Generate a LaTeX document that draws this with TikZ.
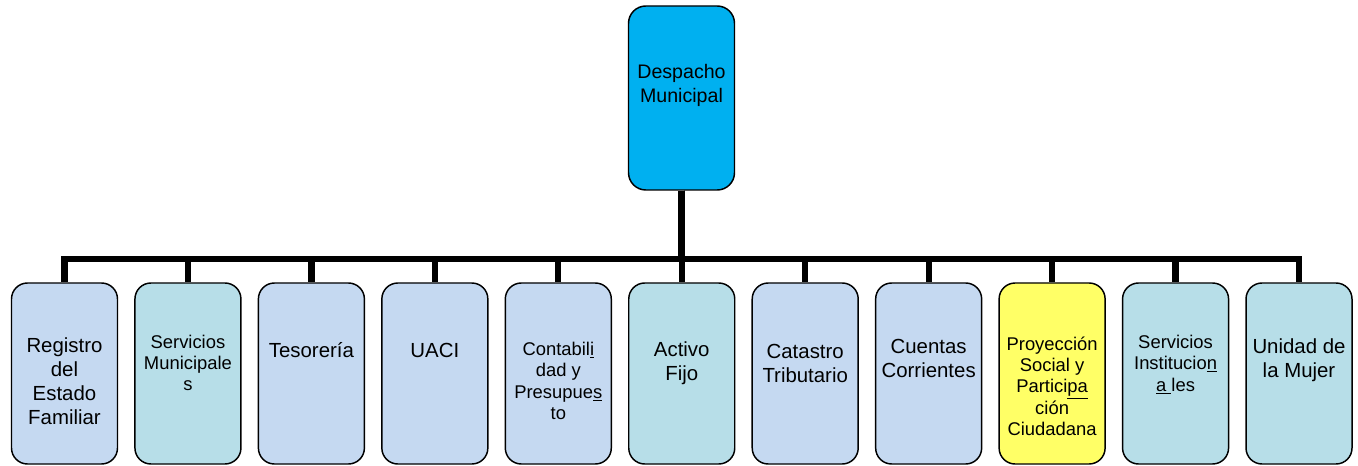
\documentclass[tikz,border=0pt]{standalone}
\usepackage{fontspec}
\setmainfont{Liberation Sans}
\usepackage{tikz}

\tikzset{
  unit/.style={draw, line width=1.1pt, rounded corners=12pt, minimum width=79.5pt, minimum height=135.75pt, inner sep=0pt},
  bluebox/.style={unit, fill={rgb, 255:red, 197; green, 217; blue, 241 }},
  tealbox/.style={unit, fill={rgb, 255:red, 183; green, 222; blue, 232 }},
  yellowbox/.style={unit, fill={rgb, 255:red, 255; green, 255; blue, 102 }},
  headbox/.style={draw, line width=1.1pt, rounded corners=13pt, minimum width=79.5pt, minimum height=138pt, inner sep=0pt, fill={rgb, 255:red, 0; green, 176; blue, 240 }},
  bar/.style={line width=4.7pt, color={rgb, 255:red, 0; green, 0; blue, 0 }},
  lbig/.style={inner sep=0.75pt, align=center, font=\fontsize{15.3}{18}\selectfont},
  lsmall/.style={inner sep=0.75pt, align=center, font=\fontsize{13.8}{16}\selectfont},
  lhead/.style={inner sep=0.75pt, align=center, font=\fontsize{14.7}{18}\selectfont}
}

\begin{document}
\begin{tikzpicture}[x=0.75pt,y=0.75pt,yscale=-1,xscale=1]
\useasboundingbox (0,0) rectangle (1358,466);

%Shape: Rounded Rectangle [id:despacho]
\node [headbox] (despacho) at (681.5,98) {};
%Shape: Rounded Rectangle [id:registro]
\node [bluebox] (registro) at (64.5,373.5) {};
%Shape: Rounded Rectangle [id:servmun]
\node [tealbox] (servmun) at (187.95,373.5) {};
%Shape: Rounded Rectangle [id:tesoreria]
\node [bluebox] (tesoreria) at (311.4,373.5) {};
%Shape: Rounded Rectangle [id:uaci]
\node [bluebox] (uaci) at (434.85,373.5) {};
%Shape: Rounded Rectangle [id:contab]
\node [bluebox] (contab) at (558.3,373.5) {};
%Shape: Rounded Rectangle [id:activo]
\node [tealbox] (activo) at (681.75,373.5) {};
%Shape: Rounded Rectangle [id:catastro]
\node [bluebox] (catastro) at (805.2,373.5) {};
%Shape: Rounded Rectangle [id:cuentas]
\node [bluebox] (cuentas) at (928.65,373.5) {};
%Shape: Rounded Rectangle [id:proyeccion]
\node [yellowbox] (proyeccion) at (1052.1,373.5) {};
%Shape: Rounded Rectangle [id:servinst]
\node [tealbox] (servinst) at (1175.55,373.5) {};
%Shape: Rounded Rectangle [id:mujer]
\node [tealbox] (mujer) at (1299,373.5) {};

%Straight Lines [id:trunk]
\draw [bar] (despacho.south) -- ++(0,68) -| (registro.north) ;
\draw [bar] (despacho.south) -- ++(0,68) -| (servmun.north) ;
\draw [bar] (despacho.south) -- ++(0,68) -| (tesoreria.north) ;
\draw [bar] (despacho.south) -- ++(0,68) -| (uaci.north) ;
\draw [bar] (despacho.south) -- ++(0,68) -| (contab.north) ;
\draw [bar] (despacho.south) -- ++(0,68) -| (activo.north) ;
\draw [bar] (despacho.south) -- ++(0,68) -| (catastro.north) ;
\draw [bar] (despacho.south) -- ++(0,68) -| (cuentas.north) ;
\draw [bar] (despacho.south) -- ++(0,68) -| (proyeccion.north) ;
\draw [bar] (despacho.south) -- ++(0,68) -| (servinst.north) ;
\draw [bar] (despacho.south) -- ++(0,68) -| (mujer.north) ;

% Text Node
\node [lhead] (despachoT) at (681.5,85) {Despacho\\Municipal};
% Text Node
\node [lbig] (registroT) at (64.5,381) {Registro\\del\\Estado\\Familiar};
% Text Node
\node [lsmall] (servmunT) at (187.95,363) {Servicios\\Municipale\\s};
% Text Node
\node [lbig] (tesoreriaT) at (311.4,350) {Tesorería};
% Text Node
\node [lbig] (uaciT) at (434.85,350) {UACI};
% Text Node
\node [lsmall] (contabT) at (558.3,381) {Contabil\underline{i}\\dad y\\Presupue\underline{s}\\to};
% Text Node
\node [lbig] (activoT) at (681.75,363) {Activo\\Fijo};
% Text Node
\node [lbig] (catastroT) at (805.2,363) {Catastro\\Tributario};
% Text Node
\node [lbig] (cuentasT) at (928.65,358) {Cuentas\\Corrientes};
% Text Node
\node [lsmall] (proyeccionT) at (1052.1,386) {Proyección\\Social y\\Partici\underline{pa}\\ción\\Ciudadana};
% Text Node
\node [lsmall] (servinstT) at (1175.55,364.5) {Servicios\\Institucio\underline{n}\\\underline{a }les};
% Text Node
\node [lbig] (mujerT) at (1299,360.5) {Unidad de\\la Mujer};

\end{tikzpicture}
\end{document}
